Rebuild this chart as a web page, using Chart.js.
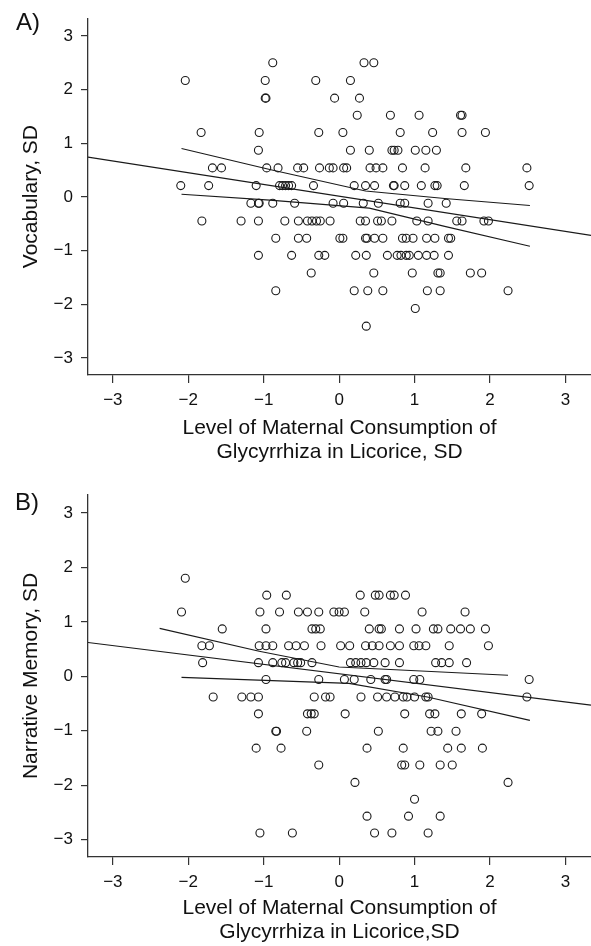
<!DOCTYPE html>
<html>
<head>
<meta charset="utf-8">
<script src="https://cdn.jsdelivr.net/npm/chart.js@4.4.1/dist/chart.umd.min.js"></script>
<style>
  html, body { margin: 0; padding: 0; background: #fff; }
  #wrap { position: relative; width: 591px; height: 946px; overflow: hidden; }
  canvas { position: absolute; left: 0; }
  .tag { position: absolute; font: 24px/24px 'Liberation Sans', Arial, sans-serif; color: #111; }
</style>
</head>
<body>
<div id="wrap">
  <canvas id="chartA" width="591" height="470" style="top:0"></canvas>
  <canvas id="chartB" width="591" height="476" style="top:470px"></canvas>
  <div class="tag" style="left:16px;top:10px">A)</div>
  <div class="tag" style="left:15px;top:490px">B)</div>
</div>
<script>
const xTicks = [-3, -2, -1, 0, 1, 2, 3];
const yTicks = [-3, -2, -1, 0, 1, 2, 3];

// each row: [score, [licorice levels of the children with that score]]
const vocabRows = [
  [2.50, [-0.88, 0.33, 0.46]],
  [2.17, [-2.04, -0.98, -0.31, 0.15]],
  [1.84, [-0.98, -0.97, -0.06, 0.27]],
  [1.52, [0.24, 0.68, 1.06, 1.61, 1.63]],
  [1.20, [-1.83, -1.06, -0.27, 0.05, 0.81, 1.24, 1.63, 1.94]],
  [0.87, [-1.07, 0.15, 0.40, 0.70, 0.73, 0.78, 1.01, 1.15, 1.29]],
  [0.54, [-1.68, -1.56, -0.96, -0.81, -0.55, -0.47, -0.26, -0.13, -0.08, 0.06, 0.10, 0.41, 0.49, 0.58, 0.84, 1.14, 1.68, 2.49]],
  [0.21, [-2.10, -1.73, -1.10, -0.79, -0.75, -0.71, -0.67, -0.63, -0.34, 0.20, 0.35, 0.47, 0.72, 0.73, 0.87, 1.09, 1.27, 1.30, 1.66, 2.52]],
  [-0.12, [-1.17, -1.07, -1.06, -0.88, -0.59, -0.08, 0.06, 0.32, 0.52, 0.81, 0.87, 1.18, 1.42]],
  [-0.45, [-1.82, -1.30, -1.07, -0.72, -0.54, -0.42, -0.36, -0.30, -0.25, -0.12, 0.28, 0.35, 0.51, 0.56, 0.70, 1.03, 1.18, 1.56, 1.63, 1.92, 1.98]],
  [-0.77, [-0.84, -0.54, -0.43, 0.01, 0.05, 0.35, 0.37, 0.47, 0.58, 0.84, 0.89, 0.98, 1.16, 1.27, 1.45, 1.48]],
  [-1.09, [-1.07, -0.63, -0.27, -0.19, 0.22, 0.36, 0.64, 0.77, 0.82, 0.89, 0.93, 1.05, 1.16, 1.26, 1.45]],
  [-1.42, [-0.37, 0.46, 0.97, 1.31, 1.34, 1.74, 1.89]],
  [-1.75, [-0.84, 0.20, 0.38, 0.58, 1.17, 1.34, 2.24]],
  [-2.08, [1.01]],
  [-2.41, [0.36]]
];

const memoryRows = [
  [1.80, [-2.04]],
  [1.49, [-0.96, -0.70, 0.28, 0.48, 0.53, 0.68, 0.73, 0.88]],
  [1.18, [-2.09, -1.05, -0.79, -0.54, -0.42, -0.27, -0.07, 0.00, 0.07, 0.34, 1.10, 1.67]],
  [0.87, [-1.55, -0.97, -0.36, -0.31, -0.25, 0.40, 0.53, 0.56, 0.80, 1.02, 1.25, 1.31, 1.48, 1.61, 1.74, 1.94]],
  [0.56, [-1.82, -1.72, -1.06, -0.97, -0.88, -0.67, -0.57, -0.46, -0.24, 0.02, 0.14, 0.35, 0.44, 0.53, 0.68, 0.80, 0.99, 1.06, 1.15, 1.46, 1.98]],
  [0.25, [-1.81, -1.07, -0.88, -0.76, -0.71, -0.60, -0.55, -0.51, -0.36, 0.15, 0.22, 0.29, 0.36, 0.46, 0.61, 0.80, 1.28, 1.36, 1.46, 1.69]],
  [-0.06, [-0.97, -0.27, 0.07, 0.20, 0.42, 0.61, 0.63, 0.99, 1.07, 2.52]],
  [-0.38, [-1.67, -1.29, -1.17, -1.07, -0.33, -0.18, -0.12, 0.29, 0.51, 0.63, 0.74, 0.85, 0.90, 1.00, 1.15, 1.18, 2.49]],
  [-0.69, [-1.07, -0.42, -0.37, -0.33, 0.08, 0.87, 1.20, 1.27, 1.62, 1.89]],
  [-1.01, [-0.84, -0.83, -0.43, 0.52, 1.22, 1.31, 1.55]],
  [-1.32, [-1.10, -0.77, 0.37, 0.85, 1.44, 1.62, 1.90]],
  [-1.63, [-0.27, 0.83, 0.87, 1.07, 1.34, 1.50]],
  [-1.95, [0.21, 2.24]],
  [-2.26, [1.00]],
  [-2.57, [0.37, 0.92, 1.34]],
  [-2.88, [-1.05, -0.62, 0.47, 0.70, 1.18]]
];

// fitted line and confidence band as [x, y]
const vocabFit = [[-3.33, 0.74], [3.35, -0.72]];
const vocabUpper = [[-2.09, 0.90], [-0.92, 0.51], [0.35, 0.11], [1.40, -0.03], [2.53, -0.16]];
const vocabLower = [[-2.09, 0.05], [-0.92, -0.06], [0.40, -0.21], [1.40, -0.55], [2.53, -0.92]];

const memoryFit = [[-3.33, 0.62], [3.34, -0.53]];
const memoryUpper = [[-2.38, 0.88], [-1.06, 0.46], [0.00, 0.17], [2.24, 0.02]];
const memoryLower = [[-2.09, -0.02], [0.13, -0.13], [1.17, -0.38], [2.53, -0.81]];

Chart.defaults.font.family = "'Liberation Sans', Arial, sans-serif";
Chart.defaults.color = '#111';

const ink = '#1a1a1a';

function toPoints(rows) {
  return rows.flatMap(([y, xs]) => xs.map(x => ({ x: x, y: y })));
}

function toLine(pairs) {
  return pairs.map(([x, y]) => ({ x: x, y: y }));
}

function minus(v) {
  return v < 0 ? '\u2212' + Math.abs(v) : String(v);
}

function lineSet(pairs) {
  return {
    data: toLine(pairs),
    showLine: true,
    borderColor: ink,
    borderWidth: 1.1,
    pointRadius: 0,
    tension: 0
  };
}

function makeChart(id, cfg) {
  const ctx = document.getElementById(id).getContext('2d');
  return new Chart(ctx, {
    type: 'scatter',
    data: {
      datasets: [
        {
          data: toPoints(cfg.rows),
          pointStyle: 'circle',
          pointRadius: 4,
          borderColor: ink,
          borderWidth: 1.1,
          backgroundColor: 'rgba(0,0,0,0)'
        },
        lineSet(cfg.fit),
        lineSet(cfg.upper),
        lineSet(cfg.lower)
      ]
    },
    options: {
      responsive: false,
      animation: false,
      devicePixelRatio: 1,
      layout: { autoPadding: false, padding: { top: cfg.top, left: 0, right: 0, bottom: 0 } },
      plugins: {
        legend: { display: false },
        tooltip: { enabled: false }
      },
      scales: {
        x: {
          type: 'linear',
          min: -3.33,
          max: 3.34,
          afterBuildTicks: s => { s.ticks = xTicks.map(v => ({ value: v })); },
          afterFit: s => {
            s.height = cfg.xHeight;
            s.paddingLeft = 0;
            s.paddingRight = 0;
          },
          ticks: {
            font: { size: 17 },
            color: '#111',
            padding: 7,
            maxRotation: 0,
            callback: v => minus(v)
          },
          grid: { drawOnChartArea: false, drawTicks: true, tickLength: 8, color: '#333', lineWidth: 1.2 },
          border: { display: true, color: '#333', width: 1.3 },
          title: {
            display: true,
            text: cfg.xTitle,
            font: { size: 21, lineHeight: 1.15 },
            color: '#111',
            padding: { top: 0, bottom: cfg.xTitlePad }
          }
        },
        y: {
          type: 'linear',
          min: -3.32,
          max: 3.33,
          afterBuildTicks: s => { s.ticks = yTicks.map(v => ({ value: v })); },
          afterFit: s => { s.width = 88; },
          ticks: {
            font: { size: 17 },
            color: '#111',
            padding: 8,
            callback: v => minus(v)
          },
          grid: { drawOnChartArea: false, drawTicks: true, tickLength: 7, color: '#333', lineWidth: 1.2 },
          border: { display: true, color: '#333', width: 1.3 },
          title: {
            display: true,
            text: cfg.yTitle,
            font: { size: 21, lineHeight: 1.25 },
            color: '#111',
            padding: { top: 18, bottom: 0 }
          }
        }
      }
    }
  });
}

makeChart('chartA', {
  rows: vocabRows, fit: vocabFit, upper: vocabUpper, lower: vocabLower,
  top: 15, xHeight: 95, xTitlePad: 6,
  xTitle: ['Level of Maternal Consumption of', 'Glycyrrhiza in Licorice, SD'],
  yTitle: 'Vocabulary, SD'
});

makeChart('chartB', {
  rows: memoryRows, fit: memoryFit, upper: memoryUpper, lower: memoryLower,
  top: 25, xHeight: 89, xTitlePad: 1.5,
  xTitle: ['Level of Maternal Consumption of', 'Glycyrrhiza in Licorice,SD'],
  yTitle: 'Narrative Memory, SD'
});
</script>
</body>
</html>
